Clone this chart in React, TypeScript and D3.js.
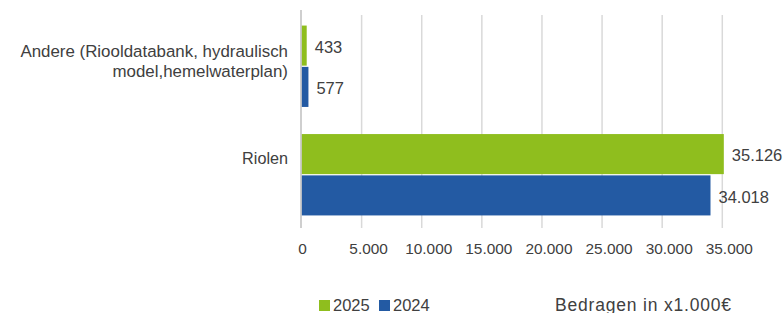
import { useEffect } from "react";
import * as d3 from "d3";

const WIDTH = 784;
const HEIGHT = 313;

const categories = ["Andere", "Riolen"];
const categoryLines: string[][] = [
  ["Andere (Riooldatabank, hydraulisch", "model,hemelwaterplan)"],
  ["Riolen"],
];
const seriesNames = ["2025", "2024"];
const values2025 = [433, 35126];
const values2024 = [577, 34018];
const xTicks = [0, 5000, 10000, 15000, 20000, 25000, 30000, 35000];

const COLORS: Record<string, string> = { "2025": "#8fbe1e", "2024": "#235aa3" };
const TEXT = "#404040";
const FONT = "'Liberation Sans', Arial, sans-serif";

const fmt = (v: number) =>
  v.toLocaleString("nl-BE", { maximumFractionDigits: 0, useGrouping: true }).replace(/\s|,/g, ".");

export default function App() {
  useEffect(() => {
    document.body.style.margin = "0";
  }, []);

  const x = d3.scaleLinear().domain([0, 35000]).range([301.5, 722.3]);
  const y = d3.scaleBand<string>().domain(categories).range([12, 229]).paddingInner(0.25).paddingOuter(0.125);
  const sub = d3.scaleBand<string>().domain(seriesNames).range([0, y.bandwidth()]).paddingInner(0.03);

  const rows = categories.map((c, i) => ({
    cat: c,
    vals: [
      { s: "2025", v: values2025[i] },
      { s: "2024", v: values2024[i] },
    ],
  }));

  // label baselines relative to band top (as in the source chart)
  const labelTop = [31, 30];
  const labelSize = [16.9, 16.2];

  return (
    <svg width={WIDTH} height={HEIGHT} style={{ display: "block", fontFamily: FONT }}>
      <rect width={WIDTH} height={HEIGHT} fill="#ffffff" />
      {xTicks.slice(1).map((t) => (
        <line key={t} x1={x(t)} x2={x(t)} y1={15} y2={228} stroke="#d9d9d9" strokeWidth={1.5} />
      ))}
      {rows.map((r) =>
        r.vals.map((d) => (
          <rect
            key={r.cat + d.s}
            x={x(0)}
            y={(y(r.cat) as number) + (sub(d.s) as number)}
            width={x(d.v) - x(0)}
            height={sub.bandwidth()}
            fill={COLORS[d.s]}
          />
        ))
      )}
      <line x1={301} x2={301} y1={10} y2={228} stroke="#bfbfbf" strokeWidth={1.5} />
      {rows.map((r) =>
        r.vals.map((d) => (
          <text
            key={"l" + r.cat + d.s}
            x={x(d.v) + 8}
            y={(y(r.cat) as number) + (sub(d.s) as number) + sub.bandwidth() / 2 + 1.5}
            dy="0.35em"
            fontSize={16.5}
            fill={TEXT}
          >
            {fmt(d.v)}
          </text>
        ))
      )}
      {categories.map((c, i) => (
        <text key={c} textAnchor="end" fontSize={labelSize[i]} fill={TEXT}>
          {categoryLines[i].map((line, j) => (
            <tspan key={j} x={288} y={(y(c) as number) + labelTop[i] + j * 20}>
              {line}
            </tspan>
          ))}
        </text>
      ))}
      {xTicks.map((t) => (
        <text
          key={"t" + t}
          x={x(t) + (t === 0 ? 1 : 7)}
          y={253.5}
          textAnchor="middle"
          fontSize={15.4}
          fill={TEXT}
        >
          {fmt(t)}
        </text>
      ))}
      <g fontSize={16.5} fill={TEXT}>
        <rect x={319} y={300} width={11} height={11} fill={COLORS["2025"]} />
        <text x={333} y={310.5}>2025</text>
        <rect x={379} y={300} width={11} height={11} fill={COLORS["2024"]} />
        <text x={393} y={310.5}>2024</text>
        <text x={555} y={310.5} fontSize={17.5} textLength={176} lengthAdjust="spacing">
          Bedragen in x1.000€
        </text>
      </g>
    </svg>
  );
}
